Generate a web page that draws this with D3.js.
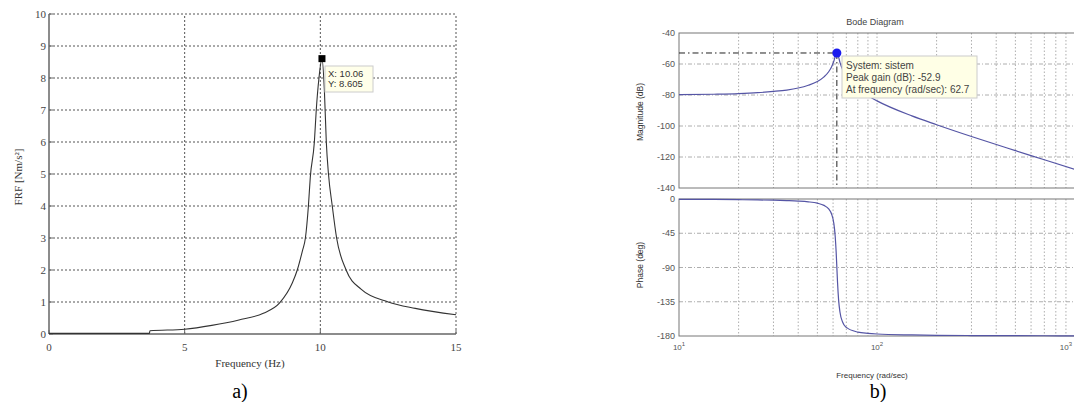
<!DOCTYPE html>
<html>
<head>
<meta charset="utf-8">
<script src="https://cdn.jsdelivr.net/npm/d3@7"></script>
<style>
  body { margin: 0; background: #fff; }
</style>
</head>
<body>
<div id="fig"></div>
<script>
// ---- a) FRF curve ----
const frfFreq  = [0, 3.7, 3.72, 5, 6, 7, 7.9, 8.5, 8.97, 9.15, 9.34, 9.45, 9.56, 9.63, 9.78, 9.85, 9.95, 10.06, 10.15, 10.22, 10.3, 10.44, 10.6, 10.95, 11.5, 12.5, 13.5, 15];
const frfValue = [0.02, 0.02, 0.1, 0.15, 0.27, 0.44, 0.65, 0.97, 1.6, 2.0, 2.6, 3.0, 4.0, 4.9, 6.0, 7.0, 8.0, 8.605, 7.6, 6.0, 5.0, 4.0, 3.0, 2.0, 1.4, 1.0, 0.8, 0.6];
const frfTicksX = [0, 5, 10, 15];
const frfTicksY = [0, 1, 2, 3, 4, 5, 6, 7, 8, 9, 10];
const frfPeak = [10.06, 8.605];

// ---- b) Bode diagram ----
const bodeFreq  = [10, 15, 20, 25, 30, 35, 40, 45, 50, 54, 57, 59, 60.5, 61.5, 62.2, 62.7, 63.2, 64, 65, 67, 70, 80, 90, 100, 150, 200, 300, 500, 700, 1000];
const bodeMag   = [-79.8, -79.5, -79.1, -78.5, -77.7, -76.8, -75.5, -73.7, -71.3, -68.3, -65.0, -61.7, -58.2, -55.2, -53.4, -52.9, -53.4, -55.6, -58.9, -63.5, -67.8, -76.0, -80.5, -83.8, -93.5, -99.2, -106.8, -115.9, -121.8, -128.1];
const bodePhase = [-0.4, -0.6, -0.9, -1.2, -1.6, -2.1, -2.7, -3.7, -5.5, -8.4, -13.0, -20.0, -31.7, -48.9, -70.0, -90, -109.7, -132.9, -148.5, -161.6, -168.7, -174.9, -176.6, -177.4, -178.6, -179.1, -179.4, -179.6, -179.7, -179.8];
const magTicks = [-40, -60, -80, -100, -120, -140];
const phaseTicks = [0, -45, -90, -135, -180];
const bodeTicksX = [10, 100, 1000];
const bodePeak = [62.7, -52.9];
const bodeInfo = ["System: sistem", "Peak gain (dB): -52.9", "At frequency (rad/sec): 62.7"];

const svg = d3.select("#fig")
    .append("svg")
    .attr("width", 1074)
    .attr("height", 402);

const serif = "'Liberation Serif', 'Times New Roman', serif";
const sans = "'Liberation Sans', Arial, sans-serif";

// ================= a) =================
{
    const x = d3.scaleLinear().domain([0, 15]).range([49, 456]);
    const y = d3.scaleLinear().domain([0, 10]).range([334, 14]);
    const g = svg.append("g");

    // grid
    g.selectAll(".hgrid")
        .data(frfTicksY.slice(1))
        .enter()
        .append("line")
        .attr("x1", x(0)).attr("x2", x(15))
        .attr("y1", d => y(d)).attr("y2", d => y(d))
        .attr("stroke", "#555")
        .attr("stroke-width", 1)
        .attr("stroke-dasharray", "2,2");

    g.selectAll(".vgrid")
        .data(frfTicksX.slice(1))
        .enter()
        .append("line")
        .attr("x1", d => x(d)).attr("x2", d => x(d))
        .attr("y1", y(0)).attr("y2", y(10))
        .attr("stroke", "#555")
        .attr("stroke-width", 1)
        .attr("stroke-dasharray", "2,2");

    // axes lines
    g.append("line")
        .attr("x1", x(0)).attr("x2", x(0))
        .attr("y1", y(0)).attr("y2", y(10))
        .attr("stroke", "#666").attr("stroke-width", 1.5);
    g.append("line")
        .attr("x1", x(0)).attr("x2", x(15))
        .attr("y1", y(0)).attr("y2", y(0))
        .attr("stroke", "#666").attr("stroke-width", 1.5);

    // ticks
    g.selectAll(".ytick")
        .data(frfTicksY)
        .enter()
        .append("line")
        .attr("x1", x(0)).attr("x2", x(0) + 4)
        .attr("y1", d => y(d)).attr("y2", d => y(d))
        .attr("stroke", "#666");
    g.selectAll(".xtick")
        .data(frfTicksX)
        .enter()
        .append("line")
        .attr("x1", d => x(d)).attr("x2", d => x(d))
        .attr("y1", y(0)).attr("y2", y(0) - 4)
        .attr("stroke", "#666");

    g.selectAll(".ylab")
        .data(frfTicksY)
        .enter()
        .append("text")
        .attr("x", x(0) - 3)
        .attr("y", d => y(d))
        .attr("dy", "0.35em")
        .attr("text-anchor", "end")
        .style("font-family", serif)
        .style("font-size", "11px")
        .attr("fill", "#444")
        .text(d => d);

    g.selectAll(".xlab")
        .data(frfTicksX)
        .enter()
        .append("text")
        .attr("x", d => x(d))
        .attr("y", y(0) + 17)
        .attr("text-anchor", "middle")
        .style("font-family", serif)
        .style("font-size", "11px")
        .attr("fill", "#444")
        .text(d => d);

    g.append("text")
        .attr("transform", `translate(22,177) rotate(-90)`)
        .attr("text-anchor", "middle")
        .style("font-family", serif)
        .style("font-size", "11px")
        .attr("fill", "#333")
        .text("FRF [Nm/s²]");

    g.append("text")
        .attr("x", 250).attr("y", 367)
        .attr("text-anchor", "middle")
        .style("font-family", serif)
        .style("font-size", "11px")
        .attr("fill", "#333")
        .text("Frequency (Hz)");

    g.append("text")
        .attr("x", 240).attr("y", 398)
        .attr("text-anchor", "middle")
        .style("font-family", serif)
        .style("font-size", "20px")
        .attr("fill", "#000")
        .text("a)");

    // curve
    const line = d3.line()
        .curve(d3.curveMonotoneX)
        .x((d, i) => x(frfFreq[i]))
        .y(d => y(d));
    g.append("path")
        .datum(frfValue)
        .attr("d", line)
        .attr("fill", "none")
        .attr("stroke", "#333")
        .attr("stroke-width", 1.1);

    // data tip
    g.append("rect")
        .attr("x", 325).attr("y", 66)
        .attr("width", 48).attr("height", 26)
        .attr("fill", "#ffffea")
        .attr("stroke", "#ccc");
    g.selectAll(".tip")
        .data(["X: " + frfPeak[0].toFixed(2), "Y: " + frfPeak[1]])
        .enter()
        .append("text")
        .attr("x", 328)
        .attr("y", (d, i) => 77 + i * 10)
        .style("font-family", sans)
        .style("font-size", "9.5px")
        .attr("fill", "#333")
        .text(d => d);

    g.append("rect")
        .attr("x", x(frfPeak[0]) - 3.5)
        .attr("y", y(frfPeak[1]) - 3.5)
        .attr("width", 7).attr("height", 7)
        .attr("fill", "#000");
}

// ================= b) =================
{
    const x = d3.scaleLog().domain([10, 1000]).range([679, 1075]);
    const yM = d3.scaleLinear().domain([-140, -40]).range([188, 33]);
    const yP = d3.scaleLinear().domain([-180, 0]).range([336, 199]);
    const g = svg.append("g");
    const minor = x.ticks().filter(d => d > 10 && d < 1000);

    const panels = [
        { y: yM, ticks: magTicks },
        { y: yP, ticks: phaseTicks }
    ];

    panels.forEach(p => {
        const [bottom, top] = p.y.range();
        g.selectAll(null)
            .data(minor)
            .enter()
            .append("line")
            .attr("x1", d => x(d)).attr("x2", d => x(d))
            .attr("y1", top).attr("y2", bottom)
            .attr("stroke", "#999")
            .attr("stroke-width", 0.8)
            .attr("stroke-dasharray", "1.5,2");
        g.selectAll(null)
            .data(p.ticks.slice(1, -1))
            .enter()
            .append("line")
            .attr("x1", 679).attr("x2", 1075)
            .attr("y1", d => p.y(d)).attr("y2", d => p.y(d))
            .attr("stroke", "#999")
            .attr("stroke-width", 0.8)
            .attr("stroke-dasharray", "4,2,1,2");
        g.append("rect")
            .attr("x", 679).attr("y", top)
            .attr("width", 1075 - 679).attr("height", bottom - top)
            .attr("fill", "none")
            .attr("stroke", "#777")
            .attr("stroke-width", 1);
        g.selectAll(null)
            .data(p.ticks)
            .enter()
            .append("text")
            .attr("x", 675)
            .attr("y", d => p.y(d))
            .attr("dy", "0.35em")
            .attr("text-anchor", "end")
            .style("font-family", sans)
            .style("font-size", "9px")
            .attr("fill", "#555")
            .text(d => d);
    });

    // x tick labels 10^n (last one pulled inside the page edge)
    const xl = g.selectAll(null)
        .data(bodeTicksX)
        .enter()
        .append("text")
        .attr("x", (d, i) => i === bodeTicksX.length - 1 ? 1072 : x(d))
        .attr("y", 350)
        .attr("text-anchor", (d, i) => i === bodeTicksX.length - 1 ? "end" : "middle")
        .style("font-family", sans)
        .style("font-size", "8px")
        .attr("fill", "#555");
    xl.append("tspan").text("10");
    xl.append("tspan")
        .attr("dy", "-4")
        .style("font-size", "6px")
        .text(d => Math.round(Math.log10(d)));

    g.append("text")
        .attr("x", 875).attr("y", 25)
        .attr("text-anchor", "middle")
        .style("font-family", sans)
        .style("font-size", "9px")
        .attr("fill", "#444")
        .text("Bode Diagram");

    g.append("text")
        .attr("transform", "translate(643,112) rotate(-90)")
        .attr("text-anchor", "middle")
        .style("font-family", sans)
        .style("font-size", "8.5px")
        .attr("fill", "#333")
        .text("Magnitude (dB)");

    g.append("text")
        .attr("transform", "translate(643,265) rotate(-90)")
        .attr("text-anchor", "middle")
        .style("font-family", sans)
        .style("font-size", "8.5px")
        .attr("fill", "#333")
        .text("Phase (deg)");

    g.append("text")
        .attr("x", 872).attr("y", 378)
        .attr("text-anchor", "middle")
        .style("font-family", sans)
        .style("font-size", "8px")
        .attr("fill", "#333")
        .text("Frequency (rad/sec)");

    g.append("text")
        .attr("x", 878).attr("y", 398)
        .attr("text-anchor", "middle")
        .style("font-family", serif)
        .style("font-size", "20px")
        .attr("fill", "#000")
        .text("b)");

    // curves
    g.append("path")
        .datum(bodeMag)
        .attr("d", d3.line().curve(d3.curveMonotoneX).x((d, i) => x(bodeFreq[i])).y(d => yM(d)))
        .attr("fill", "none")
        .attr("stroke", "#5555a5")
        .attr("stroke-width", 1.2);

    g.append("path")
        .datum(bodePhase)
        .attr("d", d3.line().curve(d3.curveMonotoneX).x((d, i) => x(bodeFreq[i])).y(d => yP(d)))
        .attr("fill", "none")
        .attr("stroke", "#5555a5")
        .attr("stroke-width", 1.2);

    // peak guide lines
    const px = x(bodePeak[0]), py = yM(bodePeak[1]);
    g.append("line")
        .attr("x1", 679).attr("x2", px)
        .attr("y1", py).attr("y2", py)
        .attr("stroke", "#222")
        .attr("stroke-dasharray", "6,3,1.5,3");
    g.append("line")
        .attr("x1", px).attr("x2", px)
        .attr("y1", py).attr("y2", yM(-140))
        .attr("stroke", "#222")
        .attr("stroke-dasharray", "6,3,1.5,3");

    // data tip
    g.append("rect")
        .attr("x", 842).attr("y", 56)
        .attr("width", 135).attr("height", 42)
        .attr("fill", "#ffffe6")
        .attr("stroke", "#ccc");
    g.selectAll(null)
        .data(bodeInfo)
        .enter()
        .append("text")
        .attr("x", 846)
        .attr("y", (d, i) => 69 + i * 12)
        .style("font-family", sans)
        .style("font-size", "10px")
        .attr("fill", "#444")
        .text(d => d);

    g.append("circle")
        .attr("cx", px).attr("cy", py)
        .attr("r", 4.5)
        .attr("fill", "#1a1aee");
}
</script>
</body>
</html>
